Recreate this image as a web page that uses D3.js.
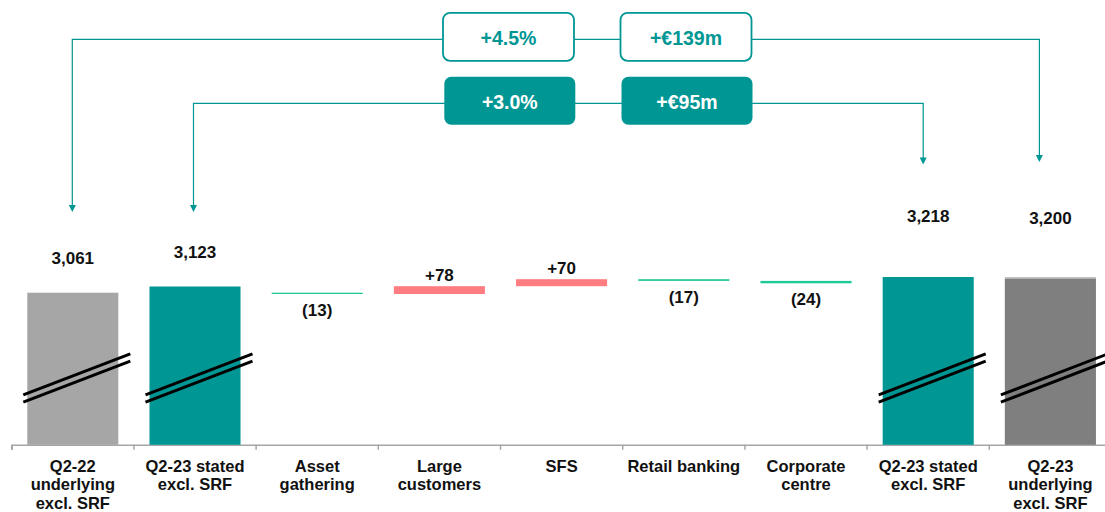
<!DOCTYPE html>
<html>
<head>
<meta charset="utf-8">
<script src="https://cdn.jsdelivr.net/npm/d3@7"></script>
<style>
  html, body { margin: 0; padding: 0; background: #fff; }
  svg { display: block; font-family: "Liberation Sans", Arial, sans-serif; }
</style>
</head>
<body>
<svg id="chart" width="1105" height="512"></svg>
<script>
// Bridge categories, left to right. Each label is split into its printed lines.
const CATEGORY_LABELS = [
  ["Q2-22", "underlying", "excl. SRF"],
  ["Q2-23 stated", "excl. SRF"],
  ["Asset", "gathering"],
  ["Large", "customers"],
  ["SFS"],
  ["Retail banking"],
  ["Corporate", "centre"],
  ["Q2-23 stated", "excl. SRF"],
  ["Q2-23", "underlying", "excl. SRF"],
];

// "total" = full bar from the axis break, "step" = floating change
const KINDS = ["total", "total", "step", "step", "step", "step", "step", "total", "total"];

// €m
const VALUES = [3061, 3123, -13, 78, 70, -17, -24, 3218, 3200];

// The two bracket call-outs on top: which bars they link and what they say.
const BRIDGE_FROM = [0, 1];
const BRIDGE_TO = [8, 7];
const BRIDGE_PCT = ["+4.5%", "+3.0%"];
const BRIDGE_ABS = ["+€139m", "+€95m"];

const TEAL = "#009694";
const TOTAL_FILL = ["#a6a6a6", TEAL, TEAL, "#7f7f7f"];
const UP_FILL = "#ff7c80";
const DOWN_FILL = "#1ec897";
const INK = "#111";

const svg = d3.select("#chart");

const x = d3.scaleBand()
  .domain(d3.range(CATEGORY_LABELS.length))
  .range([11.7, 1111.5])
  .paddingInner(0.255)
  .paddingOuter(0.1275);

// broken axis: the bars start well above zero
const y = d3.scaleLinear()
  .domain([1540, 3300])
  .range([444.8, 268.8]);

const bw = x.bandwidth();
const floor = y.domain()[0];

// the slide runs the floating steps on from the first bar's level
let running = VALUES[0];
let totalIdx = 0;
const rows = VALUES.map((v, i) => {
  if (KINDS[i] === "total") {
    return { i, kind: "total", lo: floor, hi: v, v, t: totalIdx++ };
  }
  const start = running;
  running += v;
  return { i, kind: v >= 0 ? "up" : "down", lo: Math.min(start, running), hi: Math.max(start, running), v };
});

// ---- axis ----
const axisG = svg.append("g")
  .attr("transform", `translate(0,${y(floor)})`)
  .call(d3.axisBottom(x).tickSize(0).tickSizeOuter(5).tickFormat(""));
axisG.select(".domain").attr("stroke", "#a6a6a6").attr("stroke-width", 1.5);

const gap = x.step() - bw;
axisG.selectAll("line.cat-tick")
  .data(d3.range(CATEGORY_LABELS.length + 1))
  .join("line")
  .attr("class", "cat-tick")
  .attr("x1", (d) => x(0) - gap / 2 + d * x.step())
  .attr("x2", (d) => x(0) - gap / 2 + d * x.step())
  .attr("y1", 0).attr("y2", 5)
  .attr("stroke", "#a6a6a6").attr("stroke-width", 1.5);

const catText = svg.append("g").selectAll("text")
  .data(CATEGORY_LABELS)
  .join("text")
  .attr("text-anchor", "middle")
  .attr("font-size", 16.5)
  .attr("font-weight", "bold")
  .attr("fill", INK);
catText.selectAll("tspan")
  .data((d, i) => d.map((line) => ({ line, i })))
  .join("tspan")
  .attr("x", (d) => x(d.i) + bw / 2)
  .attr("y", (d, j) => 471.7 + j * 18.4)
  .text((d) => d.line);

// ---- bars ----
const barG = svg.append("g");
// ghost of the stated level behind the last bar
const last = rows[rows.length - 1];
barG.append("rect")
  .attr("x", x(last.i)).attr("width", bw)
  .attr("y", y(VALUES[7])).attr("height", y(floor) - y(VALUES[7]))
  .attr("fill", "#c0c0c0");

barG.selectAll("rect.bar")
  .data(rows)
  .join("rect")
  .attr("class", "bar")
  .attr("x", (d) => x(d.i))
  .attr("width", bw)
  .attr("y", (d) => y(d.hi))
  .attr("height", (d) => Math.max(1.3, y(d.lo) - y(d.hi)))
  .attr("fill", (d) => d.kind === "total" ? TOTAL_FILL[d.t] : d.kind === "up" ? UP_FILL : DOWN_FILL);

// axis-break marks on the full bars
const breakG = svg.append("g");
rows.filter((d) => d.kind === "total").forEach((d) => {
  const cx = x(d.i) + bw / 2 + 4;
  const cy = 378;
  [-3.6, 3.6].forEach((off) => {
    breakG.append("line")
      .attr("x1", cx - 53.5).attr("y1", cy + off + 20.5)
      .attr("x2", cx + 53.5).attr("y2", cy + off - 20.5)
      .attr("stroke", "#000").attr("stroke-width", 3);
  });
});

// ---- value labels ----
const fmt = d3.format(",");
svg.append("g").selectAll("text")
  .data(rows)
  .join("text")
  .attr("text-anchor", "middle")
  .attr("font-size", 17)
  .attr("font-weight", "bold")
  .attr("fill", INK)
  .attr("x", (d) => x(d.i) + bw / 2)
  .attr("y", (d) => {
    if (d.kind === "total") return y(d.hi) - (d.i < 2 ? 28.5 : 54.6);
    if (d.kind === "up") return y(d.hi) - 5;
    return y(d.lo) + 22;
  })
  .text((d) => d.kind === "total" ? fmt(d.v) : d.v >= 0 ? `+${d.v}` : `(${-d.v})`);

// ---- bracket call-outs ----
const LINE_Y = [39.3, 103.3];
const LEFT_TIP = [212, 212];
const RIGHT_TIP = [162, 164.5];
const RIGHT_NUDGE = [-11, -5];
const LEFT_NUDGE = [-0.5, -1.5];
const calloutG = svg.append("g");

BRIDGE_FROM.forEach((from, r) => {
  const ly = LINE_Y[r];
  const xl = x(from) + bw / 2 + LEFT_NUDGE[r];
  const xr = x(BRIDGE_TO[r]) + bw / 2 + RIGHT_NUDGE[r];
  const tips = [[xl, LEFT_TIP[r]], [xr, RIGHT_TIP[r]]];

  calloutG.append("path")
    .attr("d", `M${xl},${tips[0][1] - 6} V${ly} H${xr} V${tips[1][1] - 6}`)
    .attr("fill", "none").attr("stroke", TEAL).attr("stroke-width", 1.2);

  tips.forEach(([tx, ty]) => {
    calloutG.append("path")
      .attr("d", `M${tx - 3.5},${ty - 7} L${tx + 3.5},${ty - 7} L${tx},${ty} Z`)
      .attr("fill", TEAL);
  });

  const filled = r === 1;
  [[443 + (r ? 1.3 : 0), BRIDGE_PCT[r]], [620.5 + (r ? 1 : 0), BRIDGE_ABS[r]]].forEach(([bx, label]) => {
    calloutG.append("rect")
      .attr("x", bx).attr("y", ly - 26.5)
      .attr("width", 131).attr("height", 48)
      .attr("rx", 7).attr("ry", 7)
      .attr("fill", filled ? TEAL : "#fff")
      .attr("stroke", TEAL).attr("stroke-width", filled ? 0 : 1.8);
    calloutG.append("text")
      .attr("x", bx + 65.5).attr("y", ly + 6)
      .attr("text-anchor", "middle")
      .attr("font-size", 19.5).attr("font-weight", "bold")
      .attr("fill", filled ? "#fff" : TEAL)
      .text(label);
  });
});
</script>
</body>
</html>
